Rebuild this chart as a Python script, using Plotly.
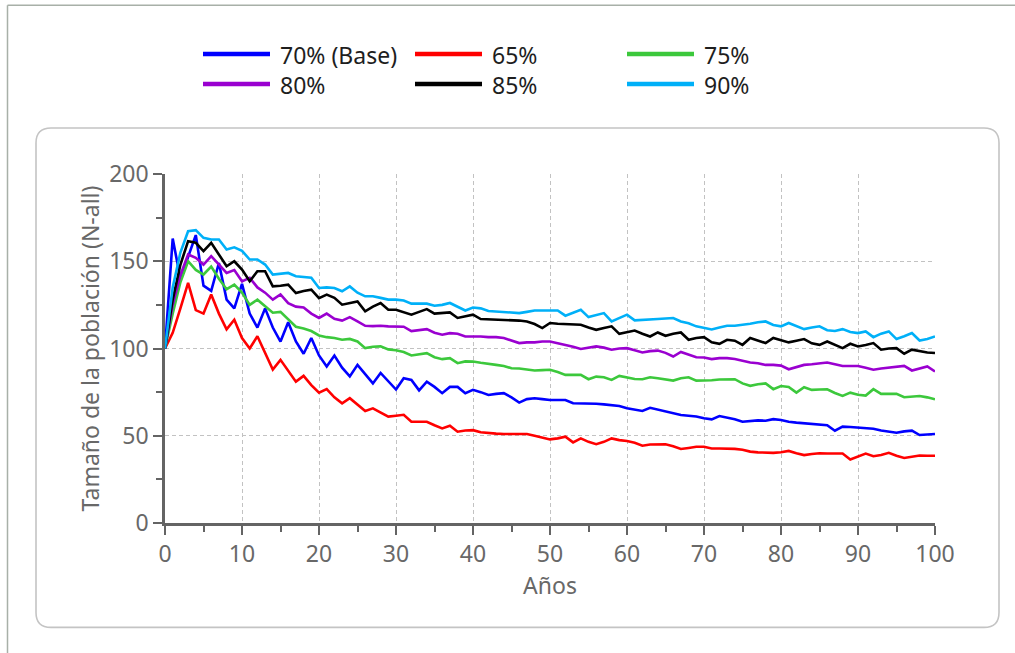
import plotly.graph_objects as go

years = list(range(101))

names = ["70% (Base)", "65%", "75%", "80%", "85%", "90%"]
colors = ["#0000ff", "#ff0000", "#3cc83c", "#9a00d0", "#000000", "#00b0f8"]

s70 = [100, 163, 140, 153, 165, 136, 133, 149, 128, 123, 137, 120, 112, 123, 112, 104, 115, 104, 97, 106,
       96, 89.7, 96, 89, 84, 90.6, 85, 80, 86, 81, 76.5, 83, 82, 76, 81, 78, 74.4, 78, 78, 74.4,
       76.3, 75, 73.4, 74, 74.4, 72, 69, 71, 71.5, 71, 70.5, 70.5, 70.5, 68.6, 68.6, 68.5, 68.3, 68, 67.7, 67,
       65.8, 65, 64.2, 66, 65, 64.2, 63, 61.9, 61.5, 61, 60, 59.4, 61.3, 60.5, 59.5, 58, 58.5, 58.8, 58.6, 59.5,
       59, 58, 57.5, 57.1, 57, 56.5, 56, 52.9, 55.2, 55, 54.8, 54.6, 54, 53, 52.5, 51.7, 52.5, 52.9, 50.4, 50.5, 51]
s65 = [100, 109, 123, 137.6, 122, 120, 131, 120, 111, 116.5, 106, 100, 107, 97, 88, 93.5, 87, 81, 84.3, 79,
       74.7, 76.7, 72, 68.6, 71.5, 68, 64.2, 65.7, 63.5, 61, 61.5, 62, 58, 58, 58, 56, 54.2, 55.7, 52.3, 53,
       53.2, 52, 51.4, 51.2, 51, 51, 51, 51, 50, 49, 47.9, 48.5, 49.5, 46.2, 48.5, 46.5, 45.2, 46.5, 48.5, 47.5,
       47, 46, 44.3, 45, 45.1, 45.1, 44, 42.4, 43, 43.7, 43.7, 42.7, 42.7, 42.8, 42.5, 42, 40.9, 40.5, 40.3, 40.2,
       40.5, 41.3, 40, 38.9, 39.5, 40, 39.8, 39.8, 39.8, 36.4, 38, 39.8, 38.3, 39, 40.2, 38.5, 37.3, 38.2, 38.7, 38.5, 38.5]
s75 = [100, 120, 138, 150, 145, 142.4, 147, 140, 134, 136.6, 132, 125, 128, 124, 120.5, 121, 117, 112.5, 111.5, 110,
       107.5, 106.5, 106, 105, 105.5, 104, 100.2, 101, 101.2, 99.5, 99, 98, 96, 96.5, 97.3, 95, 93.9, 94.5, 91.6, 92.6,
       92.5, 91.8, 91, 90.6, 90, 88.7, 88.5, 88, 87.4, 87.6, 87.8, 86.5, 84.9, 85, 84.9, 82.4, 83.9, 83.5, 82, 84.3,
       83.5, 82.5, 82.4, 83.5, 83, 82.5, 81.6, 83, 83.5, 81.6, 81.5, 81.8, 82.2, 82.4, 82.4, 80, 78.6, 79.5, 80, 76.7,
       78.5, 78, 74.7, 77.8, 76.3, 76.5, 76.6, 74.5, 72.8, 74.7, 73.5, 73, 76.7, 74, 74, 74, 72.1, 72.5, 72.8, 72, 70.9]
s80 = [100, 125, 142, 153.9, 152, 148.1, 152.9, 148, 143.3, 145, 138.5, 140.5, 135, 132, 128, 131, 126, 124, 123.5, 120,
       117.5, 120, 117, 116, 118, 115.5, 113, 112.8, 113, 112.7, 112.7, 112.5, 110, 110.5, 111.1, 109, 107.9, 108.8, 108.5, 106.9,
       107, 106.9, 106.5, 106.5, 106, 104.5, 103.1, 103.5, 103.5, 104, 104, 103, 102.1, 101, 99.7, 100.5, 101.2, 100.5, 99.3, 100,
       100.2, 99, 97.7, 98.5, 98.8, 97.5, 95.4, 98, 96.5, 95, 94.8, 93.9, 94.5, 94.5, 94, 93, 92, 91.5, 90.6, 90.6,
       90.2, 88.1, 89.5, 90.6, 91, 91.6, 92, 91, 90, 90, 90, 89, 87.8, 88.5, 89, 89.5, 90, 87.4, 88.5, 89.7, 86.8]
s85 = [100, 128, 148, 161.5, 160.6, 155.8, 160.6, 154, 147.1, 150, 145.2, 138.5, 144.3, 144.3, 135.6, 136, 136.6, 131.8, 133, 133.7,
       128.9, 130.9, 129, 125.1, 126, 127, 121.3, 124, 126.1, 122.2, 122.2, 121, 119.4, 121, 122.6, 120, 120.5, 120.7, 117.5, 118.5,
       119.4, 116.9, 116.8, 116.7, 116.5, 116.2, 116, 115.5, 114, 111.7, 114.6, 114.2, 114, 113.8, 113.6, 112, 110.7, 111.7, 112.7, 108.4,
       109.5, 110.3, 108.5, 106.9, 109.2, 107.3, 108.5, 109.2, 105, 106, 106.5, 103.5, 102.7, 105, 104.5, 102.1, 106, 104.5, 103.1, 106,
       104.7, 103.5, 104.5, 105.4, 103, 102.1, 104, 102, 100.2, 102.7, 101.2, 102, 103.1, 99.3, 100, 100.2, 97, 99.3, 98.5, 97.7, 97.4]
s90 = [100, 135, 155, 167.2, 167.8, 163.4, 162.5, 162.5, 156.7, 158, 156, 151, 151, 148.1, 142.4, 143, 143.3, 141.4, 141, 140.5,
       134.7, 135, 134.7, 132.8, 135.6, 132, 129.9, 129.9, 129, 128, 128, 127.5, 125.7, 125.7, 125.7, 124.5, 125, 126.1, 124, 121.8,
       123.5, 123, 121.5, 121.3, 121, 120.5, 120.3, 121, 121.8, 121.8, 121.8, 121.8, 118.8, 120.5, 122.2, 118, 119, 120.3, 115.5, 117.5,
       119.4, 116.1, 116.5, 116.7, 116.9, 117.2, 117.5, 115.5, 114.5, 112.7, 112, 110.9, 112, 113, 113, 113.5, 114.2, 115, 115.5, 113.5,
       112.7, 114.6, 113, 111.1, 112, 112.7, 110.5, 110, 111.1, 109.5, 108.8, 109.8, 106.5, 108.5, 109.8, 105.4, 107, 108.8, 104.6, 105.5, 106.9]

series = [s70, s65, s75, s80, s85, s90]

x_title = "Años"
y_title = "Tamaño de la población (N-all)"

FONT = "Noto Sans, Liberation Sans, Arial, sans-serif"
AXIS_COLOR = "#646464"
TEXT_COLOR = "#686868"

W, H = 1015, 653
L, R, T, B = 165, 935, 174, 522.7


def px(x):
    return (x - L) / (R - L)


def py(y):
    return (B - y) / (B - T)


fig = go.Figure()
for name, col, vals in zip(names, colors, series):
    fig.add_trace(go.Scatter(x=years, y=vals, mode="lines", name=name,
                             line=dict(color=col, width=2.6), showlegend=False))

shapes = []
annotations = []

# outer frame (top and left edges)
shapes.append(dict(type="line", xref="paper", yref="paper", x0=px(7.5), y0=py(5.5), x1=px(W + 5), y1=py(5.5),
                   line=dict(color="#a8b0a8", width=1.5), layer="below"))
shapes.append(dict(type="line", xref="paper", yref="paper", x0=px(7.5), y0=py(5.5), x1=px(7.5), y1=py(H + 5),
                   line=dict(color="#a8b0a8", width=1.5), layer="below"))

# rounded panel
x0, y0, x1, y1, r = 36, 128, 999, 627, 15
path = (f"M {px(x0 + r)},{py(y0)} L {px(x1 - r)},{py(y0)} Q {px(x1)},{py(y0)} {px(x1)},{py(y0 + r)} "
        f"L {px(x1)},{py(y1 - r)} Q {px(x1)},{py(y1)} {px(x1 - r)},{py(y1)} "
        f"L {px(x0 + r)},{py(y1)} Q {px(x0)},{py(y1)} {px(x0)},{py(y1 - r)} "
        f"L {px(x0)},{py(y0 + r)} Q {px(x0)},{py(y0)} {px(x0 + r)},{py(y0)} Z")
shapes.append(dict(type="path", xref="paper", yref="paper", path=path,
                   line=dict(color="#c4c4c4", width=1.6), layer="below"))

# legend (3 columns x 2 rows)
col_x = [203, 415, 627]
row_y = [54, 84]
for i, (name, col) in enumerate(zip(names, colors)):
    cx = col_x[i % 3]
    ry = row_y[i // 3]
    shapes.append(dict(type="line", xref="paper", yref="paper", x0=px(cx), x1=px(cx + 67),
                       y0=py(ry), y1=py(ry), line=dict(color=col, width=4.5)))
    annotations.append(dict(xref="paper", yref="paper", x=px(cx + 75), y=py(ry + 1), text=name,
                            showarrow=False, xanchor="left", yanchor="middle",
                            font=dict(family=FONT, size=23, color="#1e1e1e")))

axis_common = dict(
    showline=True, linecolor=AXIS_COLOR, linewidth=2.6,
    ticks="outside", ticklen=9, tickwidth=2.4, tickcolor=AXIS_COLOR,
    showgrid=True, gridcolor="#c2c2c2", griddash="4px,3px", gridwidth=1,
    zeroline=False,
    tickfont=dict(family=FONT, size=23, color=TEXT_COLOR),
)

fig.update_layout(
    width=W, height=H,
    margin=dict(l=L, r=W - R, t=T, b=H - B, pad=0),
    paper_bgcolor="white", plot_bgcolor="rgba(0,0,0,0)",
    font=dict(family=FONT, size=23, color=TEXT_COLOR),
    xaxis=dict(range=[0, 100], dtick=10, tick0=0,
               minor=dict(dtick=5, ticklen=6, tickwidth=2.2, tickcolor=AXIS_COLOR, showgrid=False, ticks="outside"),
               title=dict(text=x_title, font=dict(family=FONT, size=23, color=TEXT_COLOR), standoff=3),
               **axis_common),
    yaxis=dict(range=[0, 200], dtick=50, tick0=0,
               minor=dict(dtick=25, ticklen=6, tickwidth=2.2, tickcolor=AXIS_COLOR, showgrid=False, ticks="outside"),
               title=dict(text=y_title, font=dict(family=FONT, size=23, color=TEXT_COLOR), standoff=4),
               **axis_common),
    shapes=shapes,
    annotations=annotations,
)

fig.write_html("out.html", config={"displayModeBar": False},
               post_script="document.body.style.margin='0';")
